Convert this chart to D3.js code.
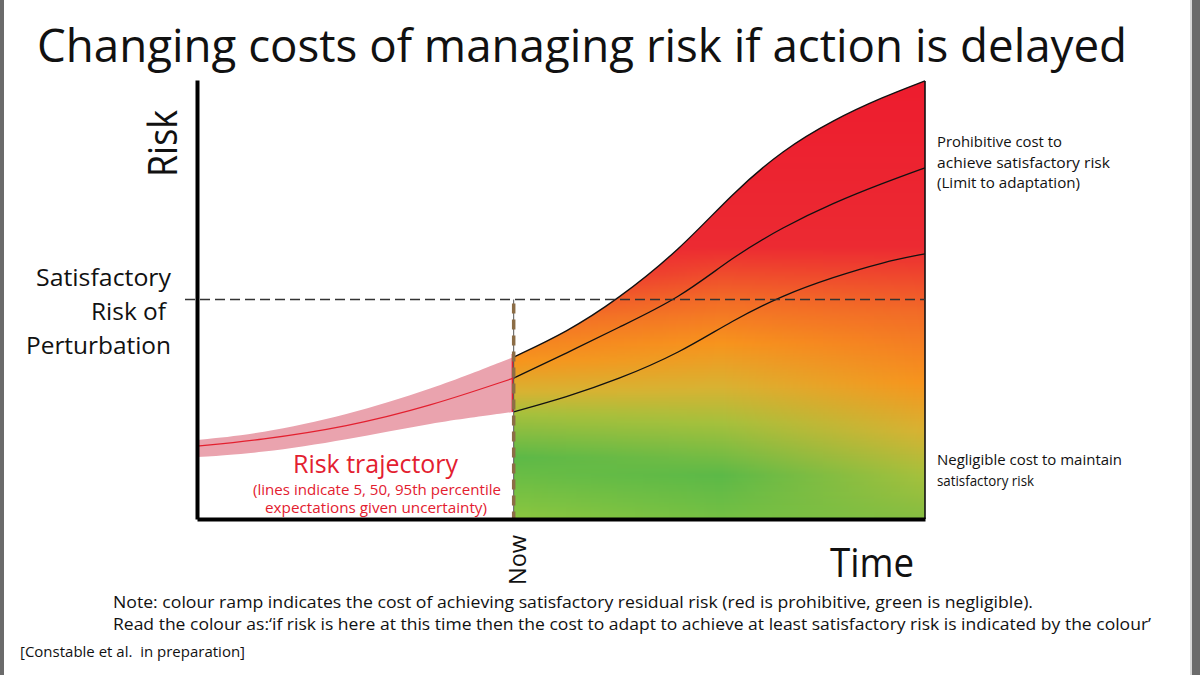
<!DOCTYPE html>
<html>
<head>
<meta charset="utf-8">
<script src="https://cdn.jsdelivr.net/npm/d3@7"></script>
<style>
  body { margin: 0; background: #fff; }
  svg { display: block; font-family: "Open Sans", "Noto Sans", sans-serif; }
  text { white-space: pre; }
</style>
</head>
<body>
<div id="chart-area"></div>
<script>
// risk trajectory before "now" (5th, 50th, 95th percentiles)
const pastTime = [0, 8.65, 20.6, 32, 43.5];
const pastP5 = [14.1, 15.0, 18.0, 21.9, 24.4];
const pastP50 = [16.6, 18.0, 21.0, 25.7, 32.1];
const pastP95 = [18.0, 19.4, 23.7, 29.4, 36.9];

// risk trajectory after "now"
const futureTime = [43.5, 50.8, 57.7, 66.3, 73.6, 80.5, 87.4, 94.2, 100];
const futureP5 = [24.4, 27.8, 31.7, 37.8, 45.3, 51.0, 55.1, 58.5, 60.4];
const futureP50 = [32.1, 37.8, 43.5, 50.3, 59.7, 66.5, 72.0, 76.5, 80.0];
const futureP95 = [36.9, 42.6, 49.9, 61.3, 74.3, 84.1, 90.9, 96.1, 99.8];

const nowTime = 43.5;
const satisfactoryRisk = 50;

// colour ramp: cost of reaching satisfactory risk, stops (risk) at three times
const rampColors = ["#8cc63f", "#5cb947", "#a6c03c", "#d8b232", "#f7941d", "#f26b27", "#ec2a32", "#ed1c2e"];
const rampTimes = [43.5, 72, 100];
const rampStops = [
    [0, 14, 24, 29, 36, 46, 56, 100],
    [-10, 10, 22, 30, 40, 50, 62, 100],
    [-36, -12, 10, 20, 31, 47, 62, 100]
];

const width = 1200;
const height = 675;

var x = d3.scaleLinear().domain([0, 100]).range([197, 925]);
var y = d3.scaleLinear().domain([0, 100]).range([519, 80]);

var svg = d3.select("#chart-area").append("svg")
    .attr("width", width)
    .attr("height", height);

// frame edges
svg.append("rect").attr("x", 0).attr("y", 0).attr("width", 4).attr("height", height).attr("fill", "#6b6b6b");
svg.append("rect").attr("x", 1190).attr("y", 0).attr("width", 2).attr("height", height).attr("fill", "#d9d9d9");
svg.append("rect").attr("x", 1192).attr("y", 0).attr("width", 8).attr("height", height).attr("fill", "#6b6b6b");

var past = pastTime.map((t, i) => ({ t: t, p5: pastP5[i], p50: pastP50[i], p95: pastP95[i] }));
var future = futureTime.map((t, i) => ({ t: t, p5: futureP5[i], p50: futureP50[i], p95: futureP95[i] }));

var curve = d3.curveBasis;

// colour field drawn on a canvas, then clipped to the future area
var x0 = Math.round(x(nowTime)), x1 = Math.round(x(100));
var y0 = Math.round(y(100)), y1 = Math.round(y(0));
var cw = x1 - x0, ch = y1 - y0;
var canvas = document.createElement("canvas");
canvas.width = cw;
canvas.height = ch;
var ctx = canvas.getContext("2d");
var img = ctx.createImageData(cw, ch);

// one vertical ramp per reference time, blended across time
var ramps = rampStops.map(s => d3.scaleLinear().domain(s).range(rampColors)
    .interpolate(d3.interpolateRgb).clamp(true));
var seg = d3.scaleLinear().domain(rampTimes).range([0, 1, 2]).clamp(true);

for (var i = 0; i < cw; i++) {
    var t = x.invert(x0 + i + 0.5);
    var s = seg(t);
    var a = Math.min(Math.floor(s), rampTimes.length - 2);
    var f = s - a;
    for (var j = 0; j < ch; j++) {
        var r = y.invert(y0 + j + 0.5);
        var c = d3.rgb(d3.interpolateRgb(ramps[a](r), ramps[a + 1](r))(f));
        var k = (j * cw + i) * 4;
        img.data[k] = c.r;
        img.data[k + 1] = c.g;
        img.data[k + 2] = c.b;
        img.data[k + 3] = 255;
    }
}
ctx.putImageData(img, 0, 0);

var futureArea = d3.area()
    .x(d => x(d.t))
    .y0(y(0))
    .y1(d => y(d.p95))
    .curve(curve);

svg.append("clipPath").attr("id", "future-clip")
    .append("path").attr("d", futureArea(future));

svg.append("image")
    .attr("x", x0).attr("y", y0)
    .attr("width", cw).attr("height", ch)
    .attr("preserveAspectRatio", "none")
    .attr("href", canvas.toDataURL())
    .attr("clip-path", "url(#future-clip)");

// outline of the future region
var line = (key) => d3.line().x(d => x(d.t)).y(d => y(d[key])).curve(curve);

svg.append("path").attr("d", line("p95")(future))
    .attr("fill", "none").attr("stroke", "#111").attr("stroke-width", 1.4);
svg.append("path").attr("d", line("p50")(future))
    .attr("fill", "none").attr("stroke", "#111").attr("stroke-width", 1.3);
svg.append("path").attr("d", line("p5")(future))
    .attr("fill", "none").attr("stroke", "#111").attr("stroke-width", 1.3);
svg.append("line")
    .attr("x1", x(100)).attr("x2", x(100))
    .attr("y1", y(futureP95[futureP95.length - 1])).attr("y2", y(0))
    .attr("stroke", "#111").attr("stroke-width", 1.6);

// past uncertainty band
var pastArea = d3.area()
    .x(d => x(d.t))
    .y0(d => y(d.p5))
    .y1(d => y(d.p95))
    .curve(curve);

svg.append("path").attr("d", pastArea(past)).attr("fill", "#eaa3ae");
svg.append("path").attr("d", line("p50")(past))
    .attr("fill", "none").attr("stroke", "#e3202f").attr("stroke-width", 1.2);
svg.append("line")
    .attr("x1", x(nowTime) - 1).attr("x2", x(nowTime) - 1)
    .attr("y1", y(pastP95[pastP95.length - 1]) - 3).attr("y2", y(pastP5[pastP5.length - 1]))
    .attr("stroke", "#e3202f").attr("stroke-width", 2);

// satisfactory risk level
svg.append("line")
    .attr("x1", x(0) - 12).attr("x2", x(100))
    .attr("y1", y(satisfactoryRisk)).attr("y2", y(satisfactoryRisk))
    .attr("stroke", "#333").attr("stroke-width", 1.5)
    .attr("stroke-dasharray", "10,5");

// "now" marker
svg.append("line")
    .attr("x1", x(nowTime)).attr("x2", x(nowTime))
    .attr("y1", y(satisfactoryRisk)).attr("y2", y(0))
    .attr("stroke", "#555").attr("stroke-width", 1);
svg.append("line")
    .attr("x1", x(nowTime)).attr("x2", x(nowTime))
    .attr("y1", y(satisfactoryRisk) + 4).attr("y2", y(0))
    .attr("stroke", "#8c6d46").attr("stroke-width", 3.5)
    .attr("stroke-dasharray", "10,6");

// axes (no ticks)
svg.append("g")
    .attr("transform", "translate(0," + y(0) + ")")
    .call(d3.axisBottom(x).ticks(0).tickSizeOuter(0))
    .select(".domain").attr("stroke", "#000").attr("stroke-width", 4);
svg.append("g")
    .attr("transform", "translate(" + x(0) + ",0)")
    .call(d3.axisLeft(y).ticks(0).tickSizeOuter(0))
    .select(".domain").attr("stroke", "#000").attr("stroke-width", 4);

// texts
function label(txt, px, py, size, opts) {
    opts = opts || {};
    var el = svg.append("text")
        .attr("x", px).attr("y", py)
        .attr("font-size", size)
        .attr("fill", opts.fill || "#111")
        .attr("text-anchor", opts.anchor || "start")
        .text(txt);
    if (opts.len) el.attr("textLength", opts.len).attr("lengthAdjust", "spacingAndGlyphs");
    if (opts.rotate) el.attr("transform", "rotate(-90," + px + "," + py + ")");
    return el;
}

label("Changing costs of managing risk if action is delayed", 37, 62, 46, { len: 1090 });

label("Risk", 177, 177, 40, { rotate: true, len: 67 });
label("Now", 526, 585, 24, { rotate: true, len: 50 });
label("Time", 830, 577, 40, { len: 84 });

label("Satisfactory", 171, 286, 23, { anchor: "end", len: 135 });
label("Risk of", 166, 320, 23, { anchor: "end", len: 75 });
label("Perturbation", 171, 354, 23, { anchor: "end", len: 145 });

label("Prohibitive cost to", 937, 147, 15, { len: 125 });
label("achieve satisfactory risk", 937, 168, 15, { len: 173 });
label("(Limit to adaptation)", 937, 188, 15, { len: 143 });
label("Negligible cost to maintain", 937, 465, 15, { len: 185 });
label("satisfactory risk", 937, 486, 15, { len: 97 });

label("Risk trajectory", 375.5, 473, 25, { anchor: "middle", fill: "#e3202f", len: 165 });
label("(lines indicate 5, 50, 95th percentile", 377, 495, 15, { anchor: "middle", fill: "#e3202f", len: 248 });
label("expectations given uncertainty)", 376, 513, 15, { anchor: "middle", fill: "#e3202f", len: 222 });

label("Note: colour ramp indicates the cost of achieving satisfactory residual risk (red is prohibitive, green is negligible).", 113, 608, 17, { len: 920 });
label("Read the colour as:\u2018if risk is here at this time then the cost to adapt to achieve at least satisfactory risk is indicated by the colour\u2019", 113, 630, 17, { len: 1038 });
label("[Constable et al.  in preparation]", 20, 657, 14, { len: 225 });
</script>
</body>
</html>
